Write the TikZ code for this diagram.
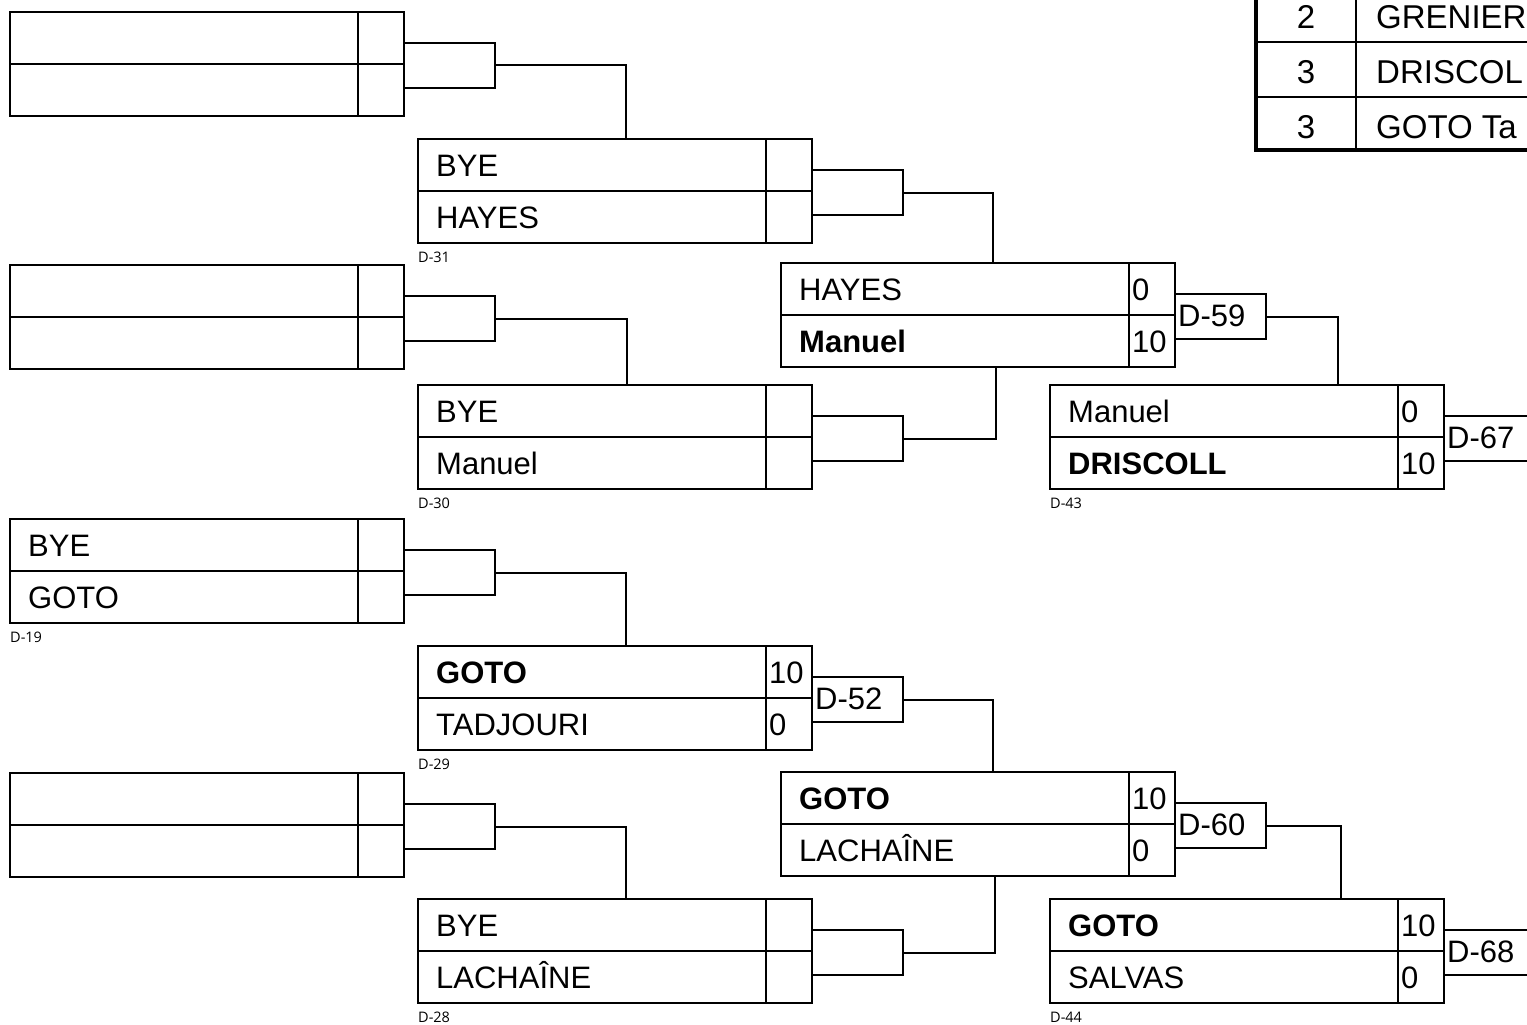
\documentclass[tikz,border=0pt]{standalone}
\usepackage{fontspec}
\setmainfont{Liberation Sans}
\newfontfamily\lblfont{Open Sans}
\usetikzlibrary{calc}
\tikzset{
  mbox/.style={draw, line width=2pt, minimum width=394pt, minimum height=104pt, inner sep=0pt, outer sep=0pt, anchor=north west},
  brbox/.style={draw, line width=2pt, minimum width=91pt, minimum height=45pt, inner sep=0pt, outer sep=0pt, anchor=west},
  ln/.style={line width=2pt},
  conn/.style={line width=2pt},
  nm/.style={anchor=base west, inner sep=0pt, font=\fontsize{31}{37}\selectfont},
  lbl/.style={anchor=north west, inner sep=0pt, font=\lblfont\fontsize{14.5}{17}\selectfont},
  tb/.style={anchor=base, inner sep=0pt, font=\fontsize{33}{40}\selectfont},
  tbn/.style={anchor=base west, inner sep=0pt, font=\fontsize{33}{40}\selectfont},
}
\newcommand\matchcell[9]{%
  \node[mbox] (#1) at (#2,#3) {};
  \draw[ln] (#1.west) -- (#1.east);
  \draw[ln] ([xshift=-46pt]#1.north east) -- ([xshift=-46pt]#1.south east);
  \node[nm] (#1t) at ([shift={(18pt,14.9pt)}]#1.west) {#4};
  \node[nm] (#1b) at ([shift={(18pt,-37.1pt)}]#1.west) {#5};
  \node[nm] (#1s) at ([shift={(-43pt,14.9pt)}]#1.east) {#6};
  \node[nm] (#1r) at ([shift={(-43pt,-37.1pt)}]#1.east) {#7};
  \node[lbl] (#1l) at ([yshift=-9pt]#1.south west) {#8};
  \node[brbox] (#1br) at ([yshift=-1.5pt]#1.east) {};
  \node[nm] (#1bl) at ([shift={(3pt,-10pt)}]#1br.west) {#9};
}
\begin{document}
\begin{tikzpicture}[x=1pt,y=-1pt]
\useasboundingbox (0,0) rectangle (1527,1025);
\clip (0,0) rectangle (1527,1025);
\fill[white] (0,0) rectangle (1527,1025);
% column 1
\matchcell{A1}{10}{12}{}{}{}{}{}{}
\matchcell{A2}{10}{265}{}{}{}{}{}{}
\matchcell{A3}{10}{519}{BYE}{GOTO}{}{}{D-19}{}
\matchcell{A4}{10}{773}{}{}{}{}{}{}
% column 2
\matchcell{B1}{418}{139}{BYE}{HAYES}{}{}{D-31}{}
\matchcell{B2}{418}{385}{BYE}{Manuel}{}{}{D-30}{}
\matchcell{B3}{418}{646}{\bfseries GOTO}{TADJOURI}{10}{0}{D-29}{D-52}
\matchcell{B4}{418}{899}{BYE}{LACHAÎNE}{}{}{D-28}{}
% column 3
\matchcell{C1}{781}{263}{HAYES}{\bfseries Manuel}{0}{10}{}{D-59}
\matchcell{C2}{781}{772}{\bfseries GOTO}{LACHAÎNE}{10}{0}{}{D-60}
% column 4
\matchcell{D1}{1050}{385}{Manuel}{\bfseries DRISCOLL}{0}{10}{D-43}{D-67}
\matchcell{D2}{1050}{899}{\bfseries GOTO}{SALVAS}{10}{0}{D-44}{D-68}
% connectors
\draw[conn] (A1br.east) -| ([xshift=208pt]B1.north west);
\draw[conn] (A2br.east) -| ([xshift=209pt]B2.north west);
\draw[conn] (A3br.east) -| ([xshift=208pt]B3.north west);
\draw[conn] (A4br.east) -| ([xshift=208pt]B4.north west);
\draw[conn] (B1br.east) -| ([xshift=212pt]C1.north west);
\draw[conn] (B2br.east) -| ([xshift=215pt]C1.south west);
\draw[conn] (B3br.east) -| ([xshift=212pt]C2.north west);
\draw[conn] (B4br.east) -| ([xshift=214pt]C2.south west);
\draw[conn] (C1br.east) -| ([xshift=288pt]D1.north west);
\draw[conn] (C2br.east) -| ([xshift=291pt]D2.north west);
% table (top right)
\draw[line width=1.6pt] (1356,-20) -- (1356,150);
\draw[line width=1.6pt] (1256,42) -- (1560,42) (1256,97) -- (1560,97);
\draw[line width=3.5pt] (1256,-20) -- (1256,150) -- (1560,150);
\node[tb] (t1n) at (1306,29) {2};
\node[tbn] (t1t) at (1376,29) {GRENIER};
\node[tb] (t2n) at (1306,84) {3};
\node[tbn] (t2t) at (1376,84) {DRISCOL};
\node[tb] (t3n) at (1306,139) {3};
\node[tbn] (t3t) at (1376,139) {GOTO Ta};
\end{tikzpicture}
\end{document}
